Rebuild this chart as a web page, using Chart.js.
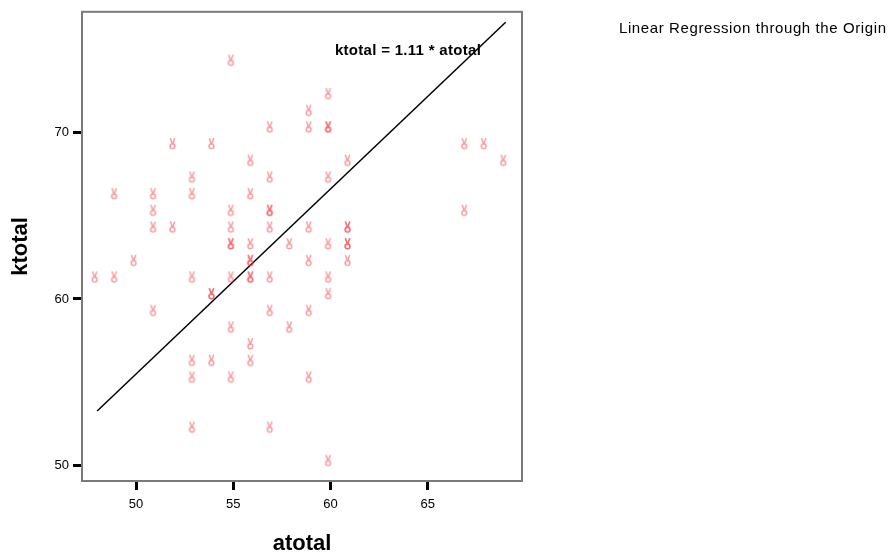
<!DOCTYPE html>
<html>
<head>
<meta charset="utf-8">
<script src="https://cdn.jsdelivr.net/npm/chart.js@4.4.1/dist/chart.umd.min.js"></script>
<style>
  html, body { margin: 0; padding: 0; background: #fff; }
  #wrap { width: 892px; height: 556px; }
</style>
</head>
<body>
<div id="wrap"><canvas id="grafico"></canvas></div>
<script>
/* ===================== DATOS ===================== */
const atotal = [
  55, 60, 59, 57, 59, 60, 60, 52, 54, 67, 68, 56, 61, 69, 53, 57, 60,
  49, 51, 53, 56, 51, 55, 57, 57, 67, 51, 52, 55, 57, 59, 61, 61,
  55, 55, 56, 58, 60, 61, 61, 50, 56, 56, 59, 61,
  48, 49, 53, 55, 56, 56, 57, 60, 54, 54, 60, 51, 57, 59, 55, 58,
  56, 53, 54, 56, 53, 55, 59, 53, 57, 60,
];
const ktotal = [
  74, 72, 71, 70, 70, 70, 70, 69, 69, 69, 69, 68, 68, 68, 67, 67, 67,
  66, 66, 66, 66, 65, 65, 65, 65, 65, 64, 64, 64, 64, 64, 64, 64,
  63, 63, 63, 63, 63, 63, 63, 62, 62, 62, 62, 62,
  61, 61, 61, 61, 61, 61, 61, 61, 60, 60, 60, 59, 59, 59, 58, 58,
  57, 56, 56, 56, 55, 55, 55, 52, 52, 50,
];
const pendiente = 1.11;
const ticksX = [50, 55, 60, 65];
const ticksY = [50, 60, 70];
const ecuacion = "ktotal = 1.11 * atotal";
const tituloDerecha = "Linear Regression through the Origin";
const tituloX = "atotal";
const tituloY = "ktotal";

const fuente = "Arial, 'Liberation Sans', sans-serif";

/* ===================== MARCADOR (mano en V) ===================== */
function crearMarcador() {
  const c = document.createElement("canvas");
  c.width = 14;
  c.height = 24;
  const g = c.getContext("2d");
  g.translate(1.5, 1);
  g.strokeStyle = "rgba(240,60,70,0.5)";
  g.lineWidth = 1.5;
  g.beginPath();
  g.moveTo(0.8, 0.3);
  g.lineTo(2.7, 5.6);
  g.moveTo(5.3, 0.3);
  g.lineTo(3.3, 5.6);
  g.stroke();
  g.beginPath();
  g.ellipse(3, 8.4, 2.4, 2.3, 0, 0, Math.PI * 2);
  g.stroke();
  return c;
}

/* ===================== RECTA DE REGRESIÓN ===================== */
const xMin = Math.min(...atotal);
const xMax = Math.max(...atotal);
const recta = [
  { x: xMin, y: pendiente * xMin },
  { x: xMax, y: pendiente * xMax },
];

/* ===================== TEXTOS Y MARCO ===================== */
const decoracion = {
  id: "decoracion",
  afterDraw(chart) {
    const { ctx, chartArea: a } = chart;
    ctx.save();
    ctx.strokeStyle = "#7a7a7a";
    ctx.lineWidth = 2;
    ctx.strokeRect(a.left, a.top, a.right - a.left, a.bottom - a.top);

    ctx.fillStyle = "#000";
    ctx.textAlign = "center";
    ctx.textBaseline = "alphabetic";
    ctx.font = `bold 15px ${fuente}`;
    ctx.letterSpacing = "0.3px";
    ctx.fillText(ecuacion, 408, 55);
    ctx.letterSpacing = "0px";

    ctx.font = `bold 22px ${fuente}`;
    ctx.fillText(tituloX, (a.left + a.right) / 2, 550);

    ctx.save();
    ctx.translate(27, (a.top + a.bottom) / 2);
    ctx.rotate(-Math.PI / 2);
    ctx.fillText(tituloY, 0, 0);
    ctx.restore();

    ctx.textAlign = "left";
    ctx.font = `15px ${fuente}`;
    ctx.letterSpacing = "0.6px";
    ctx.fillText(tituloDerecha, 619, 33);
    ctx.restore();
  },
};

/* ===================== GRÁFICO ===================== */
const ejeComun = {
  border: { display: false },
  grid: {
    drawOnChartArea: false,
    drawTicks: true,
    tickLength: 9,
    tickWidth: 3,
    tickColor: "#000",
  },
  ticks: {
    color: "#000",
    font: { family: fuente, size: 13 },
    padding: 4,
  },
};

new Chart(document.getElementById("grafico"), {
  type: "scatter",
  data: {
    datasets: [
      {
        label: "casos",
        data: atotal.map((v, i) => ({ x: v, y: ktotal[i] })),
        pointStyle: crearMarcador(),
        pointRadius: 6,
      },
      {
        type: "line",
        label: "recta",
        data: recta,
        borderColor: "#000",
        borderWidth: 1.5,
        pointRadius: 0,
        showLine: true,
        fill: false,
      },
    ],
  },
  plugins: [decoracion],
  options: {
    responsive: true,
    maintainAspectRatio: false,
    animation: false,
    layout: { padding: { left: 0, right: 370, top: 8, bottom: 0 } },
    plugins: {
      legend: { display: false },
      tooltip: { enabled: false },
    },
    scales: {
      x: {
        ...ejeComun,
        ticks: { ...ejeComun.ticks, padding: 7 },
        min: 47.22,
        max: 69.84,
        afterBuildTicks: (s) => { s.ticks = ticksX.map((v) => ({ value: v })); },
        afterFit: (s) => { s.height = 75; },
      },
      y: {
        ...ejeComun,
        min: 49.08,
        max: 77.22,
        afterBuildTicks: (s) => { s.ticks = ticksY.map((v) => ({ value: v })); },
        afterFit: (s) => { s.width = 82; },
      },
    },
  },
});
</script>
</body>
</html>
